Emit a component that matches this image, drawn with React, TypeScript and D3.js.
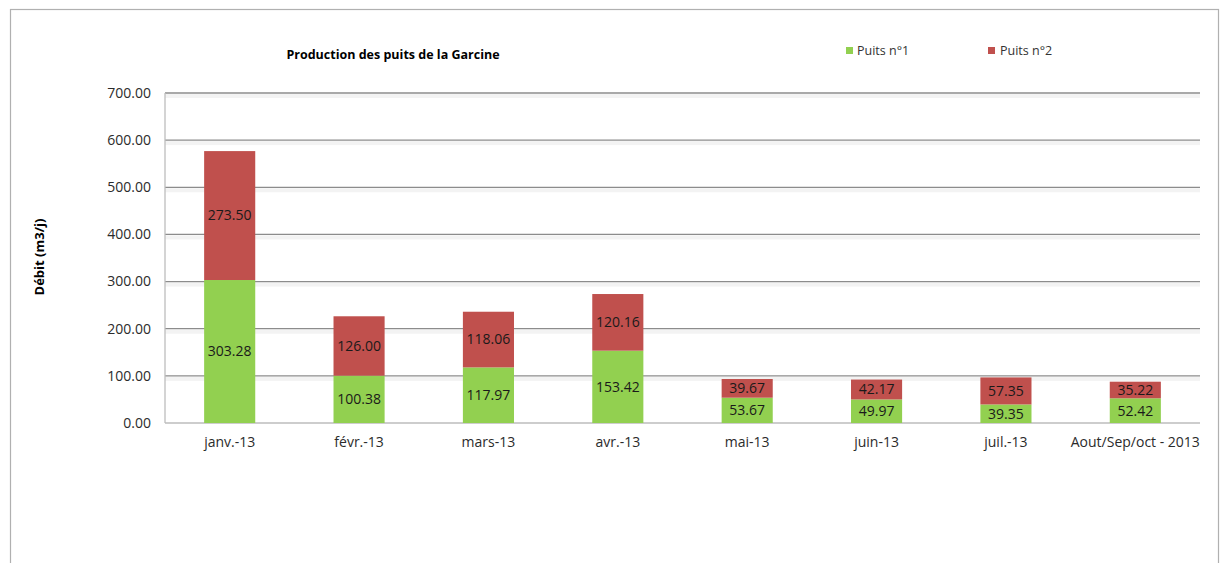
import React from 'react';
import * as d3 from 'd3';

// valeurs
const mois = ['janv.-13', 'févr.-13', 'mars-13', 'avr.-13', 'mai-13', 'juin-13', 'juil.-13', 'Aout/Sep/oct - 2013'];
const puits1 = [303.28, 100.38, 117.97, 153.42, 53.67, 49.97, 39.35, 52.42];
const puits2 = [273.5, 126.0, 118.06, 120.16, 39.67, 42.17, 57.35, 35.22];
const yTicks = [0, 100, 200, 300, 400, 500, 600, 700];

const W = 1220, H = 563;
const margin = { top: 93, right: 20, bottom: 140, left: 165 };
const font = '"Open Sans", Calibri, sans-serif';
const GREEN = '#92D050', RED = '#C0504D';

export default function App() {
  const x = d3.scaleBand<string>()
    .domain(mois)
    .range([margin.left, W - margin.right])
    .padding(0);
  const y = d3.scaleLinear()
    .domain([0, 700])
    .range([H - margin.bottom, margin.top]);
  const barW = x.step() * 0.395;

  const rows = mois.map((m, i) => ({ m, a: puits1[i], b: puits2[i] }));
  const fmt = d3.format('.2f');

  return (
    <svg width={W} height={H} style={{ position: 'absolute', left: 0, top: 0, background: '#fff' }} fontFamily={font}>
      {/* cadre */}
      <rect x={10.5} y={9.5} width={1208} height={H} fill="#fff" stroke="#b0b0b0" strokeWidth={1.2} />

      {/* titre */}
      <text x={393} y={59} textAnchor="middle" fontSize={12.5} fontWeight="bold" fill="#000">
        Production des puits de la Garcine
      </text>

      {/* légende */}
      <rect x={846} y={47} width={7} height={7} fill={GREEN} />
      <text x={857} y={55} fontSize={12.5} fill="#333">Puits n°1</text>
      <rect x={988} y={47} width={7} height={7} fill={RED} />
      <text x={1000} y={55} fontSize={12.5} fill="#333">Puits n°2</text>

      {/* grille */}
      {yTicks.map(t => (
        <g key={t}>
          {t > 0 && <rect x={margin.left} y={y(t) + 1} width={W - margin.right - margin.left} height={4} fill="#f3f3f3" />}
          <line x1={margin.left} x2={W - margin.right} y1={y(t)} y2={y(t)} stroke={t === 0 ? '#bdbdbd' : '#8c8c8c'} strokeWidth={1.3} />
          <text x={151} y={y(t)} dy="0.35em" textAnchor="end" fontSize={14} fill="#2b2b2b">{fmt(t)}</text>
        </g>
      ))}
      <line x1={margin.left} x2={margin.left} y1={margin.top} y2={y(0)} stroke="#bdbdbd" strokeWidth={1.3} />

      {/* titre axe Y */}
      <text transform={`translate(44,257) rotate(-90)`} textAnchor="middle" fontSize={13} fontWeight="bold" fill="#000">
        Débit (m3/j)
      </text>

      {/* barres empilées */}
      {rows.map(r => {
        const x0 = (x(r.m) as number) + (x.step() - barW) / 2;
        const cx = x0 + barW / 2;
        return (
          <g key={r.m}>
            <rect x={x0} y={y(r.a)} width={barW} height={y(0) - y(r.a)} fill={GREEN} />
            <rect x={x0} y={y(r.a + r.b)} width={barW} height={y(r.a) - y(r.a + r.b)} fill={RED} />
            <text x={cx} y={(y(0) + y(r.a)) / 2} dy="0.35em" textAnchor="middle" fontSize={14} fill="#1a1a1a">{fmt(r.a)}</text>
            <text x={cx} y={(y(r.a) + y(r.a + r.b)) / 2} dy="0.35em" textAnchor="middle" fontSize={14} fill="#1a1a1a">{fmt(r.b)}</text>
            <text x={cx} y={y(0) + 19} dy="0.35em" textAnchor="middle" fontSize={14} fill="#2b2b2b">{r.m}</text>
          </g>
        );
      })}
    </svg>
  );
}
